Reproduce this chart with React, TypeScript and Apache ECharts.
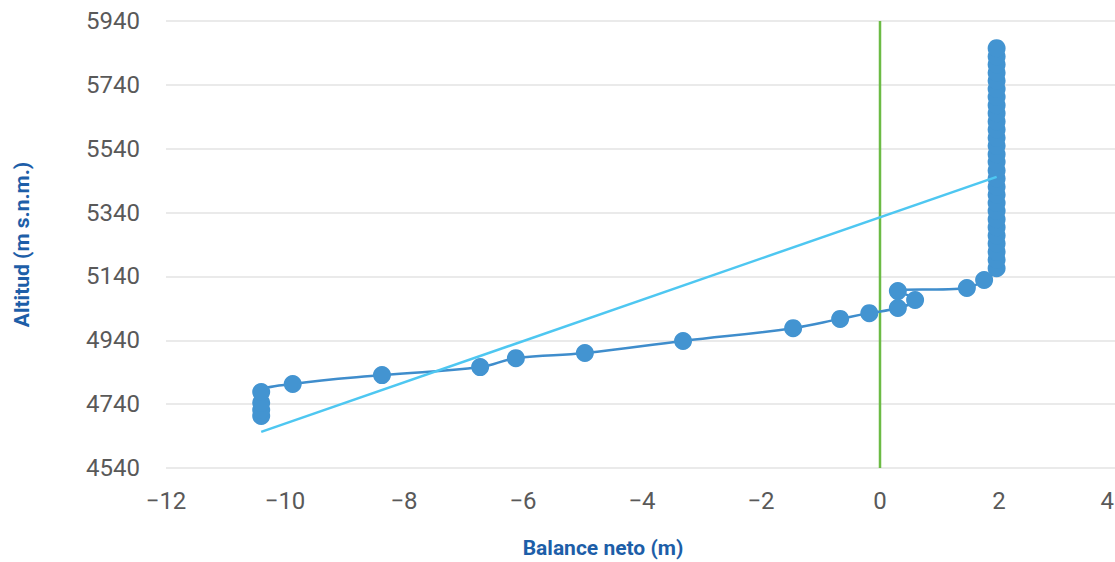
import React, { useEffect, useRef } from "react";
import * as echarts from "echarts";

// Balance neto (m) vs Altitud (m s.n.m.) — measured profile
const balance: number[] = [
  -10.4, -10.4, -10.4, -10.4, -9.87, -8.37, -6.72, -6.12, -4.96, -3.31, -1.46, -0.67, -0.18,
  0.3, 0.59, 0.3, 1.46, 1.75,
  1.96, 1.96, 1.96, 1.96, 1.96, 1.96, 1.96, 1.96, 1.96, 1.96, 1.96, 1.96, 1.96, 1.96,
  1.96, 1.96, 1.96, 1.96, 1.96, 1.96, 1.96, 1.96, 1.96, 1.96, 1.96, 1.96, 1.96, 1.96,
];
const altitude: number[] = [
  4703, 4722, 4744, 4778, 4803, 4831, 4856, 4884, 4900, 4938, 4978, 5007, 5025,
  5041, 5066, 5094, 5104, 5129,
  5166, 5192, 5217, 5243, 5268, 5294, 5319, 5345, 5370, 5396, 5421, 5447, 5472, 5498,
  5523, 5549, 5574, 5600, 5625, 5651, 5676, 5702, 5727, 5753, 5778, 5804, 5829, 5855,
];
// Linear trend line endpoints
const trendX: number[] = [-10.4, 1.96];
const trendY: number[] = [4653, 5452];
// Zero-balance reference line
const zeroX: number[] = [0, 0];
const zeroY: number[] = [4540, 5940];

const xTicks = { min: -12, max: 4, interval: 2 };
const yTicks = { min: 4540, max: 5940, interval: 200 };

export default function App() {
  const ref = useRef<HTMLDivElement>(null);
  useEffect(() => {
    if (!ref.current) return;
    document.body.style.margin = "0";
    document.body.style.overflow = "hidden";
    const chart = echarts.init(ref.current, undefined, { renderer: "svg" });
    const font = "Roboto, 'Noto Sans', sans-serif";
    chart.setOption({
      animation: false,
      backgroundColor: "#ffffff",
      grid: { left: 166, right: -3, top: 21, bottom: 94, containLabel: false, outerBoundsMode: "none" },
      xAxis: {
        type: "value",
        min: xTicks.min,
        max: xTicks.max,
        interval: xTicks.interval,
        name: "Balance neto (m)",
        nameLocation: "middle",
        nameGap: 69,
        nameTextStyle: {
          color: "#1d5ea8",
          fontSize: 21,
          fontWeight: "bold",
          fontFamily: font,
          padding: [0, 78, 0, 0],
        },
        axisLine: { show: false },
        axisTick: { show: false },
        splitLine: { show: false },
        axisLabel: {
          color: "#595959",
          fontSize: 24,
          fontFamily: font,
          margin: 21,
          alignMaxLabel: "right",
          formatter: (v: number) => (v === xTicks.max ? "{m|" + v + "}" : String(v).replace("-", "\u2212")),
          rich: { m: { color: "#595959", fontSize: 24, fontFamily: font, padding: [0, 4, 0, 0] } },
        },
      },
      yAxis: {
        type: "value",
        min: yTicks.min,
        max: yTicks.max,
        interval: yTicks.interval,
        name: "Altitud (m s.n.m.)",
        nameLocation: "middle",
        nameGap: 134,
        nameRotate: 90,
        nameTextStyle: { color: "#1d5ea8", fontSize: 21, fontWeight: "bold", fontFamily: font },
        axisLine: { show: false },
        axisTick: { show: false },
        splitLine: { show: true, lineStyle: { color: "#e3e3e3", width: 1.5 } },
        axisLabel: {
          color: "#595959",
          fontSize: 24,
          fontFamily: font,
          margin: 26,
          formatter: (v: number) => String(v),
        },
      },
      series: [
        {
          type: "line",
          data: zeroX.map((x, i) => [x, zeroY[i]]),
          showSymbol: false,
          symbol: "none",
          lineStyle: { color: "#6cbb45", width: 2.5 },
          z: 1,
        },
        {
          type: "line",
          data: balance.map((x, i) => [x, altitude[i]]),
          smooth: 0.4,
          symbol: "circle",
          symbolSize: 18,
          itemStyle: { color: "#4394d1" },
          lineStyle: { color: "#3f8dcc", width: 2.5 },
          z: 2,
        },
        {
          type: "line",
          data: trendX.map((x, i) => [x, trendY[i]]),
          symbol: "none",
          lineStyle: { color: "#4ec7f1", width: 2.5 },
          z: 3,
        },
      ],
    });
    return () => chart.dispose();
  }, []);
  return <div ref={ref} style={{ width: 1115, height: 562, position: "fixed", left: 0, top: 0 }} />;
}
